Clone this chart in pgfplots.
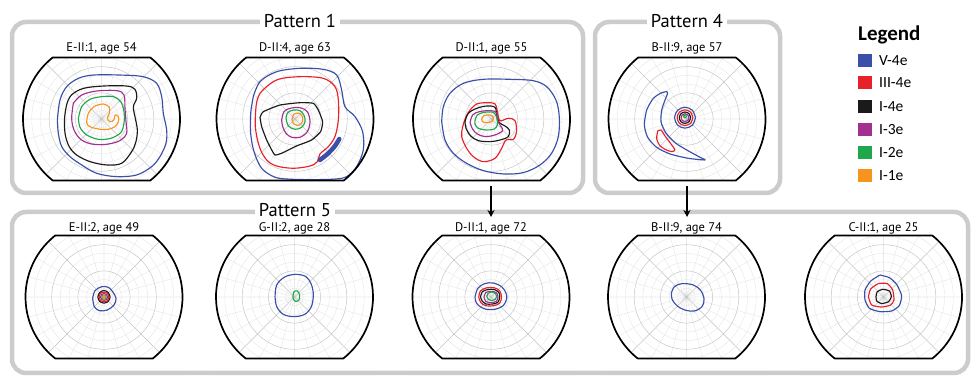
\documentclass[border=0pt]{standalone}
\usepackage{pgfplots}
\pgfplotsset{compat=1.18}
\usepgfplotslibrary{polar}
\usetikzlibrary{arrows.meta}
\usepackage{fontspec}
\setmainfont{PT Sans}
\newfontfamily\legfont{Carlito}
\definecolor{cV}{HTML}{3B4FA8}
\definecolor{cIII}{HTML}{E8202A}
\definecolor{cIfour}{HTML}{1A1A1A}
\definecolor{cIthree}{HTML}{A3308F}
\definecolor{cItwo}{HTML}{1EA84B}
\definecolor{cIone}{HTML}{F7941D}
\definecolor{boxgray}{HTML}{CCCCCC}
\pgfplotsset{
  vf/.style={scale only axis, width=157pt, height=157pt, anchor=center,
    ymin=0, ymax=90, xtick={0,45,...,315},
    minor xtick={15,30,60,75,105,120,150,165,195,210,240,255,285,300,330,345},
    ytick={30,60,90}, minor ytick={10,20,40,50,70,80},
    xticklabels={}, yticklabels={}, grid=both,
    major grid style={draw=black!24, line width=0.45pt},
    minor grid style={draw=black!10, line width=0.4pt},
    axis line style={draw=none}, tick style={draw=none}},
  iso/.style={data cs=cart, smooth, tension=0.55, line width=1.15pt, mark=none, line join=round}
}
\newcommand\vfframe[2]{%
  \fill[white] (#1-81,#2+61.5) rectangle (#1+81,#2+81);
  \fill[white] (#1-81,#2-81) rectangle (#1+81,#2-61.5);
  \draw[line width=1.7pt, line join=round] (#1+48.8,#2+61.5) -- (#1-48.8,#2+61.5)
    arc[start angle=128.43, end angle=231.57, radius=78.5pt] -- (#1+48.8,#2-61.5)
    arc[start angle=-51.57, end angle=51.57, radius=78.5pt];
}
\begin{document}
\begin{tikzpicture}[x=1pt,y=1pt]
\path (0,0) rectangle (971,377);
% ---------- Plot 1: E-II:1, age 54
\begin{polaraxis}[vf, at={(101.5pt,258pt)}]
\addplot[iso, cV] coordinates {(-50.6,-1.1) (-47.6,21.8) (-39.9,37.1) (-26.5,46.6) (-9.4,50.4) (21.2,50.4) (47.9,48.5) (63.2,40.9) (69.0,25.6) (70.9,6.5) (74.7,-12.6) (73.9,-27.9) (67.0,-43.2) (57.5,-54.6) (40.3,-64.2) (17.4,-66.1) (-5.5,-62.3) (-22.7,-52.7) (-36.1,-43.2) (-45.6,-31.7) (-49.5,-16.4) (-50.6,-1.1)};
\addplot[iso, cIfour] coordinates {(-39.5,18.0) (-34.5,27.5) (-20.8,35.1) (2.1,37.8) (28.8,37.8) (38.4,34.0) (40.3,23.7) (36.5,14.1) (38.4,2.7) (41.1,-12.6) (39.5,-26.0) (34.6,-37.4) (23.1,-50.8) (5.9,-52.7) (-13.2,-48.9) (-28.5,-41.3) (-37.0,-31.7) (-41.5,-18.3) (-42.5,-3.1) (-41.5,8.4) (-39.5,18.0)};
\addplot[iso, cIthree] coordinates {(-32.3,18.0) (-22.7,27.5) (-5.5,32.1) (17.4,32.5) (25.8,27.5) (26.9,12.2) (28.1,-3.1) (28.8,-16.4) (21.2,-24.8) (5.9,-29.0) (-11.3,-28.7) (-23.9,-23.3) (-31.5,-12.6) (-34.2,0.8) (-32.3,18.0)};
\addplot[iso, cItwo] coordinates {(-26.5,0.8) (-22.7,14.1) (-13.2,22.5) (0.2,25.6) (13.6,25.6) (22.0,19.9) (25.8,8.4) (25.8,-5.0) (22.0,-15.7) (10.5,-22.2) (-3.6,-23.3) (-17.0,-18.3) (-24.6,-9.6) (-26.5,0.8)};
\addplot[iso, cIone] coordinates {(-17.0,-3.1) (-15.1,6.5) (-8.6,14.1) (2.1,17.2) (9.0,13.4) (9.0,6.5) (6.7,0.8) (9.7,-3.1) (14.3,-1.1) (15.5,4.6) (19.3,2.7) (19.3,-3.1) (15.5,-8.8) (7.8,-11.8) (-1.7,-11.8) (-11.3,-9.6) (-15.9,-6.9) (-17.0,-3.1)};
\end{polaraxis}
% ---------- Plot 2: D-II:4, age 63
\begin{polaraxis}[vf, at={(295pt,258pt)}]
\addplot[iso, cV] coordinates {(-47.8,25.6) (-40.1,42.8) (-21.0,54.2) (5.7,58.1) (32.5,56.9) (47.8,50.4) (53.5,33.2) (57.3,14.1) (68.8,2.7) (77.5,-14.5) (78.3,-35.5) (70.7,-54.6) (59.2,-66.1) (43.9,-69.0) (17.2,-69.5) (-5.7,-69.0) (-22.9,-66.8) (-38.2,-56.5) (-47.0,-37.4) (-50.8,-16.4) (-50.8,6.5) (-47.8,25.6)};
\addplot[iso, cIII] coordinates {(-44.7,14.1) (-40.1,29.4) (-21.0,44.7) (5.7,48.5) (32.5,46.6) (45.8,37.1) (49.7,21.8) (49.7,-1.1) (45.8,-20.2) (38.2,-31.7) (28.6,-40.1) (25.6,-48.9) (17.2,-53.9) (-1.9,-56.5) (-21.0,-53.9) (-32.5,-47.0) (-40.9,-31.7) (-45.5,-8.8) (-44.7,14.1)};
\addplot[iso, cIfour, tension=0.3] coordinates {(-40.1,1.9) (-36.3,8.4) (-17.2,16.0) (5.7,18.7) (21.0,18.0) (26.7,10.3) (31.7,-3.1) (29.4,-14.5) (19.1,-24.1) (1.9,-30.9) (-15.3,-39.3) (-22.9,-41.3) (-26.7,-35.5) (-32.5,-24.1) (-38.2,-8.8) (-40.1,1.9)};
\addplot[iso, cIthree] coordinates {(-15.3,-1.1) (-12.6,8.4) (-5.7,12.2) (5.7,13.0) (14.1,8.4) (17.2,-3.1) (14.1,-14.5) (5.7,-21.0) (-3.8,-21.0) (-10.3,-16.4) (-14.1,-8.8) (-15.3,-1.1)};
\addplot[iso, cItwo] coordinates {(-10.3,0.8) (-8.4,7.3) (-1.9,10.3) (5.7,9.6) (10.3,4.2) (11.5,-3.1) (7.6,-9.6) (0,-11.8) (-7.6,-8.0) (-10.3,0.8)};
\addplot[iso, cIone] coordinates {(-3.4,-0.4) (-1.1,5.7) (5.0,6.5) (8.8,1.9) (7.6,-5.0) (2.7,-7.3) (-1.9,-5.0) (-3.4,-0.4)};
\addplot[iso, cV, line width=4.5pt, line cap=round] coordinates {(28.6,-47.0) (38.2,-39.3) (45.8,-30.9) (50.8,-22.9)};
\end{polaraxis}
% ---------- Plot 3: D-II:1, age 55
\begin{polaraxis}[vf, at={(491.5pt,258pt)}]
\addplot[iso, cV] coordinates {(-57.1,-3.1) (-55.2,14.1) (-47.6,29.4) (-32.3,40.9) (-9.4,45.5) (21.2,45.5) (47.9,43.9) (63.2,37.1) (73.9,21.8) (77.7,2.7) (76.6,-20.2) (68.9,-39.3) (55.6,-52.7) (36.5,-61.5) (13.6,-63.0) (-9.4,-59.2) (-28.5,-50.8) (-43.7,-39.3) (-53.3,-24.1) (-57.1,-3.1)};
\addplot[iso, cIII] coordinates {(-24.6,10.3) (-17.0,17.2) (-5.5,18.7) (4.0,17.2) (6.7,8.4) (9.7,-1.9) (19.3,0.8) (26.9,-1.9) (28.8,-14.5) (25.0,-23.3) (16.6,-24.1) (11.7,-33.6) (4.0,-45.1) (-9.4,-48.9) (-20.8,-43.2) (-28.5,-33.6) (-34.2,-20.2) (-33.0,-8.8) (-29.2,2.7) (-24.6,10.3)};
\addplot[iso, cIfour] coordinates {(-30.4,-3.1) (-26.6,6.5) (-17.0,12.2) (-5.5,14.9) (4.0,13.4) (5.9,4.6) (9.0,-4.2) (15.5,-8.0) (20.4,-12.6) (19.3,-20.2) (9.7,-24.1) (-1.7,-26.0) (-15.1,-24.8) (-23.9,-19.5) (-29.2,-10.7) (-30.4,-3.1)};
\addplot[iso, cIthree] coordinates {(-24.6,-4.2) (-21.6,4.6) (-13.9,8.4) (-1.7,9.6) (5.9,7.3) (6.7,-1.1) (10.5,-8.0) (12.8,-13.4) (4.0,-18.3) (-7.4,-20.2) (-16.2,-17.2) (-21.6,-11.8) (-24.6,-4.2)};
\addplot[iso, cItwo] coordinates {(-18.9,-1.9) (-16.2,4.6) (-8.6,7.6) (2.1,7.6) (5.9,1.9) (6.7,-6.9) (2.9,-11.5) (-6.3,-12.6) (-15.1,-10.7) (-18.9,-6.1) (-18.9,-1.9)};
\addplot[iso, cIone] coordinates {(-11.3,0) (-8.6,3.8) (-1.7,4.6) (2.1,1.9) (0.6,-2.7) (-5.5,-4.2) (-10.1,-3.1) (-11.3,0)};
\end{polaraxis}
% ---------- Plot 4: B-II:9, age 57
\begin{polaraxis}[vf, at={(687pt,258pt)}]
\addplot[iso, cV, tension=0.4] coordinates {(-22.9,31.3) (-29.0,30.2) (-38.6,23.7) (-46.2,10.3) (-48.9,-6.9) (-45.1,-21.0) (-34.8,-32.5) (-19.5,-40.1) (1.5,-45.1) (20.6,-47.0) (14.9,-43.9) (-0.4,-35.5) (-13.8,-27.1) (-24.4,-15.7) (-29.8,-3.1) (-29.0,10.3) (-25.2,21.8) (-22.2,29.4) (-22.9,31.3)};
\addplot[iso, cIII, tension=0.4] coordinates {(-33.6,-13.8) (-29.8,-12.6) (-25.2,-19.5) (-18.3,-28.7) (-13.8,-35.5) (-17.6,-37.4) (-25.2,-34.8) (-31.7,-29.8) (-34.8,-22.2) (-33.6,-13.8)};
\addplot[iso, cV] coordinates {(9.7,1.5) (6.2,10) (-2.3,13.5) (-10.8,10) (-14.3,1.5) (-10.8,-7) (-2.3,-10.5) (6.2,-7) (9.7,1.5)};
\addplot[iso, cIII] coordinates {(6.7,1.5) (4.1,7.9) (-2.3,10.5) (-8.7,7.9) (-11.3,1.5) (-8.7,-4.9) (-2.3,-7.5) (4.1,-4.9) (6.7,1.5)};
\addplot[iso, cIfour] coordinates {(4.2,1.5) (2.3,6.1) (-2.3,8) (-6.9,6.1) (-8.8,1.5) (-6.9,-3.1) (-2.3,-5) (2.3,-3.1) (4.2,1.5)};
\addplot[iso, cIthree] coordinates {(2.2,1.5) (0.9,4.7) (-2.3,6) (-5.5,4.7) (-6.8,1.5) (-5.5,-1.7) (-2.3,-3) (0.9,-1.7) (2.2,1.5)};
\addplot[iso, cItwo] coordinates {(-0.5,3) (-2.3,4.8) (-4.1,3) (-2.3,1.2) (-0.5,3)};
\end{polaraxis}
% ---------- Plot 5: E-II:2, age 49
\begin{polaraxis}[vf, at={(104pt,80pt)}]
\addplot[iso, cV] coordinates {(-13.0,-1.5) (-10.3,7.3) (-2.7,11.8) (5.0,11.1) (9.9,6.1) (13.8,-1.5) (11.5,-9.2) (3.8,-14.9) (-5.3,-15.7) (-11.1,-11.1) (-13.0,-1.5)};
\addplot[iso, cIfour] coordinates {(7,0) (5,5) (0,7.5) (-5,5) (-7,0) (-5,-5) (0,-7) (5,-5) (7,0)};
\addplot[iso, cIII] coordinates {(5.6,0) (4,4) (0,5.6) (-4,4) (-5.6,0) (-4,-4) (0,-5.6) (4,-4) (5.6,0)};
\addplot[iso, cIthree] coordinates {(4,0) (2.8,2.8) (0,4) (-2.8,2.8) (-4,0) (-2.8,-2.8) (0,-4) (2.8,-2.8) (4,0)};
\addplot[iso, cItwo] coordinates {(2.5,0) (1.2,2.2) (-1.2,2.2) (-2.5,0) (-1.2,-2.2) (1.2,-2.2) (2.5,0)};
\addplot[iso, cIone] coordinates {(1.4,0) (0.7,1.2) (-0.7,1.2) (-1.4,0) (-0.7,-1.2) (0.7,-1.2) (1.4,0)};
\end{polaraxis}
% ---------- Plot 6: G-II:2, age 28
\begin{polaraxis}[vf, at={(294.5pt,80pt)}]
\addplot[iso, cV] coordinates {(-22.3,0.4) (-20.4,13.8) (-11.3,22.9) (1.3,26.0) (13.2,23.3) (19.3,14.5) (21.6,2.3) (19.3,-11.1) (11.7,-19.9) (-0.6,-22.5) (-12.8,-19.9) (-20.4,-11.1) (-22.3,0.4)};
\addplot[iso, cItwo] coordinates {(-1.7,1.1) (-0.6,6.1) (3.2,6.9) (5.9,2.3) (5.2,-3.4) (1.3,-5.0) (-1.3,-2.3) (-1.7,1.1)};
\end{polaraxis}
% ---------- Plot 7: D-II:1, age 72
\begin{polaraxis}[vf, at={(491pt,80pt)}]
\addplot[iso, cV] coordinates {(-18.3,0) (-15,10) (-7,15.5) (3,16) (12,12) (17,5) (18,-2) (14,-10) (5,-14) (-6,-14) (-14,-10) (-17.5,-5) (-18.3,0)};
\addplot[iso, cIII] coordinates {(-14,0) (-12,7) (-5,10.5) (4,10.5) (10,7) (12,0) (10,-7) (3,-10) (-6,-10) (-12,-6) (-14,0)};
\addplot[iso, cIfour] coordinates {(-12,0) (-10,6) (-4,8.5) (4,8.5) (9,5) (10,0) (8,-6) (2,-8) (-6,-8) (-10,-5) (-12,0)};
\addplot[iso, cIthree] coordinates {(-8,0) (-6,5) (0,6.5) (6,5) (8,0) (6,-5) (0,-6.5) (-6,-5) (-8,0)};
\addplot[iso, cItwo] coordinates {(6.5,0.8) (4.8,4.3) (0.8,5.8) (-3.2,4.3) (-4.9,0.8) (-3.2,-2.7) (0.8,-4.2) (4.8,-2.7) (6.5,0.8)};
\end{polaraxis}
% ---------- Plot 8: B-II:9, age 74
\begin{polaraxis}[vf, at={(686.5pt,80pt)}]
\addplot[iso, cV] coordinates {(-17.4,4.2) (-13.9,11.8) (-5.2,15.3) (7.8,13.8) (16.2,7.6) (20.1,-2.3) (17.8,-11.1) (9.0,-16.0) (-0.6,-15.3) (-10.1,-10.7) (-16.2,-3.4) (-17.4,4.2)};
\end{polaraxis}
% ---------- Plot 9: C-II:1, age 25
\begin{polaraxis}[vf, at={(883.5pt,80pt)}]
\addplot[iso, cV, tension=0.35] coordinates {(-4.0,25.2) (6.7,22.2) (15.1,14.5) (20.8,1.5) (18.1,-9.9) (9.4,-16.0) (-4.0,-16.8) (-16.2,-13.0) (-21.2,-3.4) (-21.2,8.0) (-14.7,18.3) (-4.0,25.2)};
\addplot[iso, cIII, tension=0.35] coordinates {(-17.4,0.4) (-14.7,9.2) (-5.9,15.3) (4.4,15.3) (10.5,8.0) (12.0,-3.4) (8.2,-9.2) (-2.1,-11.5) (-13.6,-9.2) (-17.4,0.4)};
\addplot[iso, cIfour, tension=0.35] coordinates {(-8.6,0.4) (-7.1,6.1) (-1.0,8.8) (6.7,6.9) (9.0,0.4) (5.9,-5.3) (-2.1,-7.6) (-7.8,-4.6) (-8.6,0.4)};
\end{polaraxis}
% ---------- frames
\vfframe{101.5}{258}
\vfframe{295}{258}
\vfframe{491.5}{258}
\vfframe{687}{258}
\vfframe{104}{80}
\vfframe{294.5}{80}
\vfframe{491}{80}
\vfframe{686.5}{80}
\vfframe{883.5}{80}
% ---------- titles
\begin{scope}[every node/.style={font=\fontsize{12.5}{14}\selectfont, inner sep=0pt}]
\node at (101.5,329) {E-II:1, age 54};
\node at (295,329) {D-II:4, age 63};
\node at (491.5,329) {D-II:1, age 55};
\node at (687,329) {B-II:9, age 57};
\node at (104,149) {E-II:2, age 49};
\node at (294.5,149) {G-II:2, age 28};
\node at (491,149) {D-II:1, age 72};
\node at (686.5,149) {B-II:9, age 74};
\node at (883.5,149) {C-II:1, age 25};
\end{scope}
% ---------- pattern boxes
\draw[boxgray, line width=4.5pt, rounded corners=14pt] (12,184) rectangle (583,355);
\draw[boxgray, line width=4.5pt, rounded corners=14pt] (595,184) rectangle (780,355);
\draw[boxgray, line width=4.5pt, rounded corners=14pt] (12,4) rectangle (968,165);
\begin{scope}[every node/.style={font=\fontsize{18.5}{20}\selectfont, fill=white, inner xsep=4pt, inner ysep=1pt}]
\node at (300,356) {Pattern 1};
\node at (687,356) {Pattern 4};
\node at (295,167) {Pattern 5};
\end{scope}
% ---------- arrows
\draw[line width=1.5pt, -{Stealth[length=7pt,width=7pt]}] (491,191) -- (491,160);
\draw[line width=1.5pt, -{Stealth[length=7pt,width=7pt]}] (687,191) -- (687,160);
% ---------- legend
\node[anchor=west, inner sep=0pt, font=\legfont\bfseries\fontsize{21}{22}\selectfont] at (858,342) {Legend};
\foreach \c/\t/\yy in {cV/V-4e/316.3, cIII/III-4e/294.3, cIfour/I-4e/270.3, cIthree/I-3e/247.7, cItwo/I-2e/224.3, cIone/I-1e/201} {
  \fill[\c] (857.5,\yy-6.5) rectangle (871.5,\yy+6.5);
  \node[anchor=west, inner sep=0pt, font=\legfont\fontsize{15.5}{16}\selectfont] at (879,\yy) {\t};
}
\end{tikzpicture}
\end{document}
